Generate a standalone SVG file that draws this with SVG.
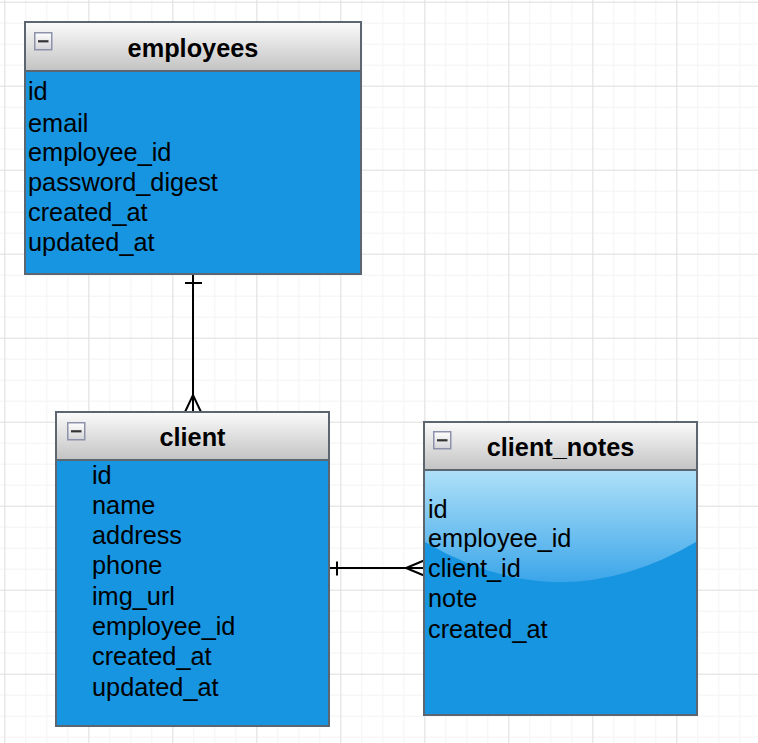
<svg xmlns="http://www.w3.org/2000/svg" width="758" height="743" viewBox="0 0 758 743">
<defs>
  <pattern id="minor" x="4.3" y="1.7" width="21" height="21" patternUnits="userSpaceOnUse">
    <path d="M0,0.5 H21 M0.5,0 V21" stroke="#f3f3f3" stroke-width="1" fill="none"/>
  </pattern>
  <pattern id="major" x="4.3" y="1.7" width="84" height="84" patternUnits="userSpaceOnUse">
    <path d="M0,0.5 H84 M0.5,0 V84" stroke="#e2e2e2" stroke-width="1" fill="none"/>
  </pattern>
  <linearGradient id="hdr" x1="0" y1="0" x2="0" y2="1">
    <stop offset="0" stop-color="#fbfbfb"/>
    <stop offset="1" stop-color="#c3c3c3"/>
  </linearGradient>
  <linearGradient id="btn" x1="0" y1="0" x2="0" y2="1">
    <stop offset="0" stop-color="#ffffff"/>
    <stop offset="1" stop-color="#d4d4d8"/>
  </linearGradient>
  <linearGradient id="gloss" gradientUnits="userSpaceOnUse" x1="0" y1="471" x2="0" y2="582">
    <stop offset="0" stop-color="#aee0f8"/>
    <stop offset="1" stop-color="#3ca6e9"/>
  </linearGradient>
  <g id="minus">
    <rect x="0.75" y="0.75" width="17" height="17" fill="url(#btn)" stroke="#8d92ab" stroke-width="1.5"/>
    <rect x="4" y="8.2" width="10.5" height="2.2" fill="#333"/>
  </g>
</defs>
<style>
  .body { fill: #1795e1; stroke: #5c6670; stroke-width: 2; }
  .head { fill: url(#hdr); stroke: #5c6670; stroke-width: 2; }
  .title { font-family: "Liberation Sans", Arial, sans-serif; font-size: 25.3px; font-weight: bold; fill: #000; text-anchor: middle; }
  .field { font-family: "Liberation Sans", Arial, sans-serif; font-size: 25.3px; fill: #000; }
  .conn { stroke: #000; stroke-width: 2; fill: none; }
</style>
<rect width="758" height="743" fill="#ffffff"/>
<rect width="758" height="743" fill="url(#minor)"/>
<rect width="758" height="743" fill="url(#major)"/>

<g id="connectors">
  <path class="conn" d="M193,274 V412"/>
  <path class="conn" d="M185,283 H202"/>
  <path class="conn" d="M185,412 L193,395 L201,412"/>
  <path class="conn" d="M329,568 H424"/>
  <path class="conn" d="M337,561.5 V575.5"/>
  <path class="conn" d="M424,560.5 L406,568 L424,575.5"/>
</g>

<g id="employees">
  <rect class="body" x="25" y="22" width="336" height="252"/>
  <rect class="head" x="25" y="22" width="336" height="49"/>
  <use href="#minus" x="34" y="32"/>
  <text class="title" x="193" y="57">employees</text>
  <text class="field" x="28" y="100">id</text>
  <text class="field" x="28" y="132">email</text>
  <text class="field" x="28" y="161">employee_id</text>
  <text class="field" x="28" y="191">password_digest</text>
  <text class="field" x="28" y="221">created_at</text>
  <text class="field" x="28" y="251">updated_at</text>
</g>

<g id="client">
  <rect class="body" x="56" y="412" width="273" height="314"/>
  <rect class="head" x="56" y="412" width="273" height="48"/>
  <use href="#minus" x="67" y="422"/>
  <text class="title" x="192.5" y="446">client</text>
  <text class="field" x="92" y="484">id</text>
  <text class="field" x="92" y="514">name</text>
  <text class="field" x="92" y="544">address</text>
  <text class="field" x="92" y="574">phone</text>
  <text class="field" x="92" y="605">img_url</text>
  <text class="field" x="92" y="635">employee_id</text>
  <text class="field" x="92" y="665">created_at</text>
  <text class="field" x="92" y="696">updated_at</text>
</g>

<g id="client_notes">
  <rect class="body" x="424" y="422" width="273" height="293"/>
  <path d="M425,471 H696 V542 Q560.5,622 425,542 Z" fill="url(#gloss)"/>
  <rect class="head" x="424" y="422" width="273" height="48"/>
  <use href="#minus" x="433" y="431"/>
  <text class="title" x="560.5" y="456">client_notes</text>
  <text class="field" x="428" y="518">id</text>
  <text class="field" x="428" y="547">employee_id</text>
  <text class="field" x="428" y="577">client_id</text>
  <text class="field" x="428" y="607">note</text>
  <text class="field" x="428" y="638">created_at</text>
</g>
</svg>
